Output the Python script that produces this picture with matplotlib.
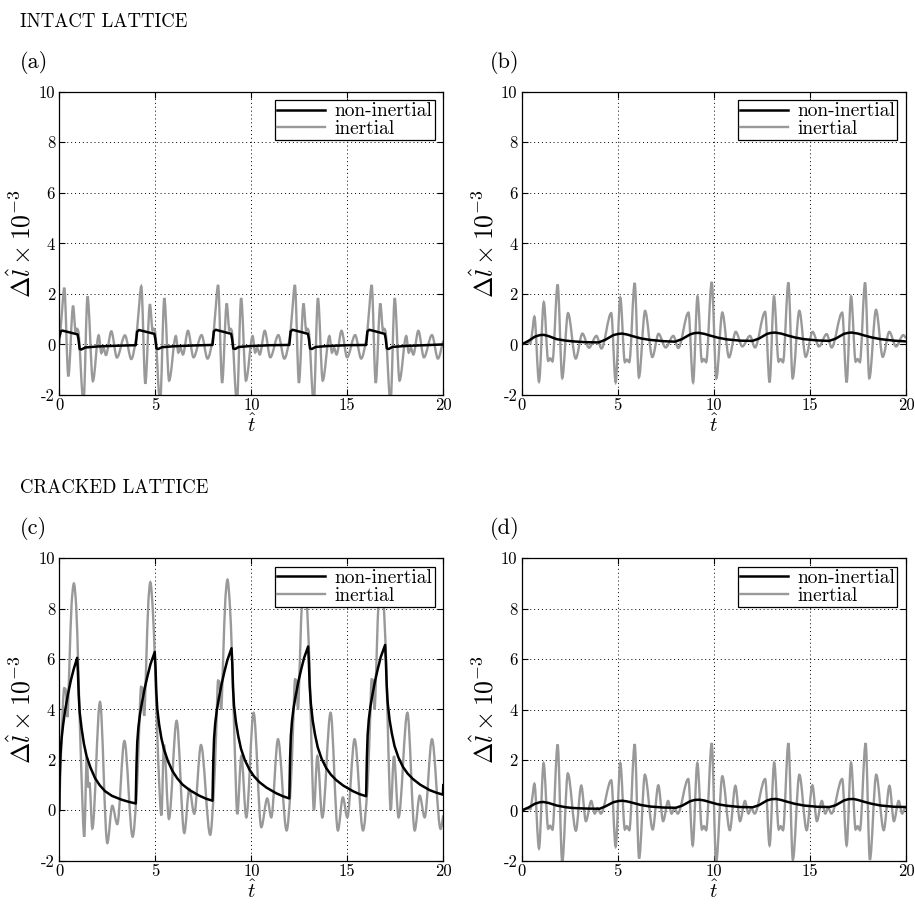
import matplotlib
matplotlib.use("Agg")
import matplotlib.pyplot as plt
from matplotlib.path import Path
from matplotlib.patches import PathPatch
from matplotlib.lines import Line2D
import numpy as np

plt.rcParams['font.family'] = ['cmr10', 'DejaVu Serif']
plt.rcParams['mathtext.fontset'] = 'cm'
plt.rcParams['axes.unicode_minus'] = False
plt.rcParams['axes.formatter.use_mathtext'] = False

# ---------------- Panel (a): intact lattice, case 1 ----------------
a_non_t = [0.00, 0.08, 0.15, 0.95, 1.00, 1.06, 1.15, 1.35, 2.0, 3.0, 3.98,
           4.05, 4.15, 4.95, 5.00, 5.06, 5.15, 5.35, 6.0, 7.0, 7.98,
           8.05, 8.15, 8.95, 9.00, 9.06, 9.15, 9.35, 10.0, 11.0, 11.98,
           12.05, 12.15, 12.95, 13.00, 13.06, 13.15, 13.35, 14.0, 15.0, 15.98,
           16.05, 16.15, 16.95, 17.00, 17.06, 17.15, 17.35, 18.0, 19.0, 20.0]
a_non_v = [0.30, 0.52, 0.55, 0.40, 0.20, -0.18, -0.20, -0.12, -0.08, -0.05, -0.03,
           0.50, 0.57, 0.42, 0.22, -0.16, -0.18, -0.11, -0.07, -0.04, -0.02,
           0.52, 0.58, 0.42, 0.22, -0.16, -0.18, -0.10, -0.06, -0.03, -0.02,
           0.52, 0.58, 0.42, 0.22, -0.16, -0.18, -0.10, -0.06, -0.03, -0.02,
           0.52, 0.58, 0.42, 0.22, -0.16, -0.18, -0.10, -0.06, -0.03, 0.00]

a_in_t = [0.00, 0.12, 0.26, 0.47, 0.72, 0.85, 0.92, 0.98, 1.26, 1.47, 1.75, 2.05, 2.19, 2.30, 2.43, 2.71, 3.00, 3.42, 3.75,
          4.00, 4.12, 4.27, 4.48, 4.72, 4.86, 4.92, 4.98, 5.25, 5.47, 5.72, 6.07, 6.20, 6.31, 6.44, 6.70, 6.99, 7.41, 7.72,
          8.00, 8.12, 8.27, 8.48, 8.72, 8.86, 8.92, 8.98, 9.25, 9.47, 9.72, 10.07, 10.20, 10.31, 10.44, 10.70, 10.99, 11.41, 11.72,
          12.00, 12.12, 12.27, 12.48, 12.72, 12.86, 12.92, 12.98, 13.25, 13.47, 13.72, 14.07, 14.20, 14.31, 14.44, 14.70, 14.99, 15.41, 15.72,
          16.00, 16.12, 16.27, 16.48, 16.72, 16.86, 16.92, 16.98, 17.25, 17.47, 17.72, 18.07, 18.20, 18.31, 18.44, 18.70, 18.99, 19.41, 19.72, 20.00]
a_in_v = [0.00, 1.10, 2.24, -1.26, 1.53, 0.50, 0.62, 0.55, -2.30, 1.90, -1.45, 0.36, -0.34, -0.14, -0.42, 0.52, -0.52, 0.36, -0.58,
          0.25, 1.20, 2.30, -1.55, 1.59, 0.55, 0.62, 0.55, -2.30, 1.83, -1.43, 0.33, -0.32, -0.14, -0.40, 0.54, -0.51, 0.37, -0.56,
          0.25, 1.20, 2.35, -1.52, 1.62, 0.55, 0.62, 0.55, -2.30, 1.83, -1.43, 0.33, -0.32, -0.14, -0.40, 0.54, -0.51, 0.37, -0.56,
          0.25, 1.20, 2.35, -1.52, 1.62, 0.55, 0.62, 0.55, -2.30, 1.83, -1.43, 0.33, -0.32, -0.14, -0.40, 0.54, -0.51, 0.37, -0.56,
          0.25, 1.20, 2.35, -1.52, 1.62, 0.55, 0.62, 0.55, -2.30, 1.83, -1.43, 0.33, -0.32, -0.14, -0.40, 0.54, -0.51, 0.37, -0.56, 0.15]

# ---------------- Panel (b): intact lattice, case 2 ----------------
b_non_t = [0.00, 0.35, 0.69, 0.95, 1.15, 1.40, 1.82, 2.30, 2.70, 3.30, 4.00,
           4.34, 4.77, 5.05, 5.24, 5.50, 5.81, 6.20, 6.68, 7.37, 7.98,
           8.34, 8.77, 9.00, 9.20, 9.50, 9.81, 10.20, 10.68, 11.37, 12.00,
           12.34, 12.77, 13.00, 13.18, 13.50, 13.81, 14.20, 14.68, 15.37, 16.00,
           16.34, 16.77, 17.00, 17.17, 17.50, 17.81, 18.20, 18.68, 19.37, 20.00]
b_non_v = [0.00, 0.14, 0.31, 0.37, 0.38, 0.33, 0.21, 0.15, 0.12, 0.09, 0.08,
           0.18, 0.37, 0.42, 0.43, 0.39, 0.32, 0.24, 0.18, 0.13, 0.11,
           0.21, 0.40, 0.45, 0.46, 0.42, 0.35, 0.27, 0.20, 0.15, 0.14,
           0.23, 0.42, 0.46, 0.47, 0.43, 0.36, 0.28, 0.21, 0.16, 0.14,
           0.23, 0.42, 0.46, 0.47, 0.43, 0.36, 0.28, 0.21, 0.15, 0.12]

b_in_t = [0.00, 0.30, 0.45, 0.55, 0.66, 0.90, 1.15, 1.38, 1.48, 1.60, 1.87, 2.11, 2.41, 2.81, 3.16, 3.50, 3.89, 4.15,
          4.66, 4.89, 5.13, 5.37, 5.47, 5.60, 5.88, 6.10, 6.42, 6.80, 7.12, 7.49, 7.89, 8.15,
          8.68, 8.92, 9.15, 9.38, 9.48, 9.60, 9.89, 10.13, 10.44, 10.79, 11.14, 11.48, 11.88, 12.14,
          12.67, 12.90, 13.13, 13.37, 13.47, 13.60, 13.88, 14.10, 14.45, 14.78, 15.14, 15.47, 15.87, 16.13,
          16.68, 16.91, 17.14, 17.38, 17.48, 17.60, 17.87, 18.09, 18.44, 18.79, 19.13, 19.48, 19.86, 20.00]
b_in_v = [0.00, 0.08, 0.05, 0.50, 1.10, -1.47, 1.67, -0.65, -0.55, -0.67, 2.37, -1.33, 1.24, -0.56, 0.43, -0.13, 0.34, -0.16,
          1.24, -1.50, 1.85, -0.70, -0.60, -0.70, 2.43, -1.30, 1.33, -0.50, 0.42, -0.12, 0.34, -0.14,
          1.26, -1.50, 1.90, -0.68, -0.58, -0.70, 2.47, -1.34, 1.26, -0.51, 0.50, -0.08, 0.34, -0.12,
          1.29, -1.50, 1.90, -0.68, -0.58, -0.70, 2.45, -1.34, 1.33, -0.49, 0.50, -0.08, 0.41, -0.12,
          1.26, -1.50, 1.90, -0.68, -0.58, -0.70, 2.45, -1.34, 1.37, -0.49, 0.50, -0.08, 0.37, 0.25]

# ---------------- Panel (c): cracked lattice, case 1 ----------------
c_non_t = [0.00, 0.02, 0.06, 0.12, 0.20, 0.30, 0.45, 0.60, 0.75, 0.93, 0.97, 1.01, 1.06, 1.16, 1.28, 1.42, 1.62, 1.86, 2.10, 2.38, 2.75, 3.25, 3.60, 3.98,
           4.02, 4.06, 4.12, 4.20, 4.30, 4.45, 4.60, 4.75, 4.97, 5.01, 5.05, 5.10, 5.20, 5.32, 5.46, 5.66, 5.90, 6.14, 6.42, 6.79, 7.29, 7.64, 7.98,
           8.02, 8.06, 8.12, 8.20, 8.30, 8.45, 8.60, 8.75, 8.97, 9.01, 9.05, 9.10, 9.20, 9.32, 9.46, 9.66, 9.90, 10.14, 10.42, 10.79, 11.29, 11.64, 11.98,
           12.02, 12.06, 12.12, 12.20, 12.30, 12.45, 12.60, 12.75, 12.96, 13.00, 13.04, 13.10, 13.20, 13.32, 13.46, 13.66, 13.90, 14.14, 14.42, 14.79, 15.29, 15.64, 15.98,
           16.02, 16.06, 16.12, 16.20, 16.30, 16.45, 16.60, 16.75, 16.97, 17.01, 17.05, 17.10, 17.20, 17.32, 17.46, 17.66, 17.90, 18.14, 18.42, 18.79, 19.29, 19.64, 19.98, 20.00]
c_non_v = [0.00, 1.30, 2.20, 2.85, 3.40, 3.95, 4.60, 5.15, 5.60, 6.05, 5.50, 4.60, 3.90, 3.25, 2.65, 2.15, 1.70, 1.28, 1.00, 0.76, 0.57, 0.42, 0.34, 0.27,
           1.80, 2.70, 3.30, 3.80, 4.25, 4.85, 5.35, 5.80, 6.28, 5.70, 4.75, 4.05, 3.40, 2.85, 2.40, 1.95, 1.55, 1.27, 1.02, 0.80, 0.58, 0.46, 0.38,
           1.95, 2.85, 3.45, 3.95, 4.40, 5.00, 5.50, 5.95, 6.43, 5.80, 4.85, 4.15, 3.50, 2.95, 2.45, 2.00, 1.62, 1.35, 1.12, 0.90, 0.68, 0.56, 0.47,
           2.05, 2.95, 3.55, 4.05, 4.50, 5.10, 5.60, 6.05, 6.50, 5.85, 4.95, 4.25, 3.55, 3.00, 2.50, 2.05, 1.68, 1.42, 1.20, 0.98, 0.76, 0.64, 0.56,
           2.10, 3.00, 3.60, 4.10, 4.55, 5.15, 5.65, 6.10, 6.56, 5.90, 5.00, 4.30, 3.60, 3.05, 2.55, 2.10, 1.72, 1.46, 1.24, 1.02, 0.80, 0.70, 0.62, 1.00]

c_in_t = [0.00, 0.10, 0.26, 0.33, 0.42, 0.52, 0.64, 0.76, 0.88, 1.00, 1.15, 1.30, 1.43, 1.52, 1.57, 1.72, 2.12, 2.50, 2.76, 3.02, 3.39, 3.82,
          4.03, 4.15, 4.26, 4.33, 4.42, 4.52, 4.64, 4.74, 4.86, 5.00, 5.15, 5.32, 5.45, 5.71, 6.11, 6.51, 6.77, 7.03, 7.38, 7.86,
          8.05, 8.17, 8.27, 8.34, 8.43, 8.53, 8.65, 8.76, 8.88, 9.00, 9.14, 9.27, 9.48, 9.74, 10.12, 10.52, 10.83, 11.04, 11.39, 11.84,
          12.05, 12.17, 12.28, 12.35, 12.43, 12.53, 12.65, 12.77, 12.89, 13.02, 13.14, 13.26, 13.44, 13.70, 14.13, 14.51, 14.77, 15.00, 15.38, 15.82,
          16.05, 16.17, 16.27, 16.34, 16.42, 16.52, 16.64, 16.77, 16.89, 17.02, 17.14, 17.26, 17.43, 17.67, 18.13, 18.51, 18.77, 19.03, 19.41, 19.86, 20.00]
c_in_v = [0.00, 2.50, 4.85, 4.80, 3.70, 5.60, 8.20, 9.00, 8.10, 5.30, 1.50, -1.05, 2.10, 0.90, 1.10, -0.72, 4.30, -1.30, 0.18, -0.55, 2.75, -1.05,
          0.70, 3.00, 4.90, 4.85, 3.75, 5.65, 8.30, 9.05, 8.10, 5.50, 2.00, -0.20, 2.60, -0.34, 3.55, -0.90, 0.85, -0.14, 2.59, -0.97,
          0.80, 3.10, 5.15, 5.10, 4.00, 5.90, 8.40, 9.15, 8.20, 6.00, 2.40, -0.15, 2.15, -0.28, 3.87, -0.67, 0.47, -0.28, 2.82, -0.80,
          0.90, 3.20, 5.20, 5.15, 4.00, 5.95, 8.50, 9.20, 8.20, 6.00, 2.40, 0.00, 2.15, -0.28, 3.87, -0.80, 0.51, -0.28, 2.82, -0.80,
          0.90, 3.20, 5.20, 5.15, 4.00, 5.95, 8.50, 9.20, 8.20, 6.00, 2.40, 0.00, 2.15, -0.28, 3.87, -0.80, 0.58, -0.28, 2.82, -0.74, -0.20]

# ---------------- Panel (d): cracked lattice, case 2 ----------------
d_non_t = [0.00, 0.35, 0.69, 0.95, 1.13, 1.40, 1.82, 2.30, 2.70, 3.30, 4.05,
           4.34, 4.77, 5.05, 5.24, 5.50, 5.81, 6.20, 6.68, 7.37, 8.02,
           8.34, 8.77, 9.00, 9.23, 9.50, 9.81, 10.20, 10.68, 11.37, 12.02,
           12.34, 12.77, 13.00, 13.23, 13.50, 13.81, 14.20, 14.68, 15.37, 16.02,
           16.34, 16.77, 17.00, 17.26, 17.50, 17.81, 18.20, 18.68, 19.37, 20.00]
d_non_v = [0.00, 0.12, 0.27, 0.33, 0.34, 0.30, 0.20, 0.13, 0.10, 0.08, 0.07,
           0.16, 0.33, 0.38, 0.39, 0.36, 0.30, 0.22, 0.16, 0.12, 0.11,
           0.19, 0.37, 0.42, 0.43, 0.40, 0.33, 0.25, 0.19, 0.14, 0.13,
           0.21, 0.40, 0.45, 0.46, 0.42, 0.35, 0.27, 0.20, 0.15, 0.14,
           0.21, 0.40, 0.45, 0.46, 0.42, 0.35, 0.27, 0.20, 0.15, 0.14]

d_in_t = [0.00, 0.30, 0.45, 0.55, 0.66, 0.90, 1.14, 1.38, 1.48, 1.60, 1.87, 2.11, 2.40, 2.82, 3.10, 3.34, 3.62, 3.80, 3.95, 4.12,
          4.66, 4.89, 5.13, 5.37, 5.47, 5.60, 5.88, 6.11, 6.41, 6.82, 7.11, 7.36, 7.62, 7.80, 7.95, 8.12,
          8.67, 8.90, 9.14, 9.38, 9.48, 9.60, 9.89, 10.12, 10.44, 10.83, 11.12, 11.36, 11.62, 11.80, 11.95, 12.12,
          12.67, 12.90, 13.14, 13.38, 13.48, 13.60, 13.88, 14.11, 14.45, 14.83, 15.13, 15.36, 15.62, 15.80, 15.95, 16.12,
          16.68, 16.91, 17.14, 17.38, 17.48, 17.60, 17.90, 18.12, 18.45, 18.84, 19.14, 19.37, 19.62, 19.80, 19.95, 20.00]
d_in_v = [0.00, 0.08, 0.05, 0.50, 1.06, -1.50, 1.88, -0.72, -0.60, -0.76, 2.62, -2.05, 1.47, -0.80, 0.99, -0.42, 0.38, -0.12, 0.10, -0.12,
          1.20, -1.43, 1.88, -0.75, -0.62, -0.78, 2.63, -1.90, 1.42, -0.75, 1.00, -0.42, 0.38, -0.12, 0.10, -0.12,
          1.25, -1.38, 1.88, -0.75, -0.62, -0.78, 2.67, -2.05, 1.36, -0.78, 0.98, -0.42, 0.38, -0.12, 0.10, -0.12,
          1.25, -1.38, 1.90, -0.75, -0.62, -0.78, 2.67, -1.95, 1.42, -0.78, 1.00, -0.42, 0.38, -0.12, 0.10, -0.12,
          1.25, -1.38, 1.90, -0.75, -0.62, -0.78, 2.67, -1.95, 1.42, -0.78, 0.98, -0.42, 0.38, -0.12, 0.10, 0.05]

x_ticks = [0, 5, 10, 15, 20]
y_ticks = [-2, 0, 2, 4, 6, 8, 10]
panel_letters = ['(a)', '(b)', '(c)', '(d)']
section_titles = ['INTACT LATTICE', 'CRACKED LATTICE']
legend_labels = ['non-inertial', 'inertial']

GRAY = '0.6'


def smooth_path(t, v):
    """Piecewise cubic Bezier path through the read points (flat tangents at extrema)."""
    t = np.asarray(t, float)
    v = np.asarray(v, float)
    n = len(t)
    m = np.zeros(n)
    for j in range(n):
        if j == 0:
            m[j] = (v[1] - v[0]) / (t[1] - t[0])
        elif j == n - 1:
            m[j] = (v[-1] - v[-2]) / (t[-1] - t[-2])
        else:
            d0 = (v[j] - v[j - 1]) / (t[j] - t[j - 1])
            d1 = (v[j + 1] - v[j]) / (t[j + 1] - t[j])
            m[j] = 0.0 if d0 * d1 <= 0 else 2.0 / (1.0 / d0 + 1.0 / d1)
    verts = [(t[0], v[0])]
    codes = [Path.MOVETO]
    for j in range(n - 1):
        h = t[j + 1] - t[j]
        verts += [(t[j] + h / 3, v[j] + m[j] * h / 3),
                  (t[j + 1] - h / 3, v[j + 1] - m[j + 1] * h / 3),
                  (t[j + 1], v[j + 1])]
        codes += [Path.CURVE4] * 3
    return Path(verts, codes)


W, H = 915, 905
fig = plt.figure(figsize=(W / 100, H / 100), dpi=100)

boxes = [(59.3, 91.7, 443.3, 395.0), (521.7, 91.7, 906.0, 395.0),
         (59.3, 558.3, 443.3, 860.7), (521.7, 558.3, 906.0, 861.0)]
series = [(a_non_t, a_non_v, a_in_t, a_in_v), (b_non_t, b_non_v, b_in_t, b_in_v),
          (c_non_t, c_non_v, c_in_t, c_in_v), (d_non_t, d_non_v, d_in_t, d_in_v)]

for i, ((x0, y0, x1, y1), (nt, nv, it, iv)) in enumerate(zip(boxes, series)):
    ax = fig.add_axes([x0 / W, 1 - y1 / H, (x1 - x0) / W, (y1 - y0) / H])
    patch = PathPatch(smooth_path(it, iv), facecolor='none', edgecolor=GRAY,
                      lw=1.7, zorder=2, transform=ax.transData)
    ax.add_patch(patch)
    k, = ax.plot(nt, nv, color='black', lw=1.8, zorder=3)
    g = Line2D([], [], color=GRAY, lw=1.7)
    ax.set_xlim(0, 20)
    ax.set_ylim(-2, 10)
    ax.set_xticks(x_ticks)
    ax.set_yticks(y_ticks)
    ax.grid(True, color='black', linestyle=(0, (1, 3)), linewidth=0.7)
    ax.tick_params(direction='in', length=4, top=True, right=True, labelsize=12, pad=3)
    ax.tick_params(axis='x', pad=2)
    for s in ax.spines.values():
        s.set_linewidth(0.9)
    ax.set_xlabel(r'$\hat{t}$', fontsize=15, labelpad=0)
    ax.set_ylabel(r'$\Delta\hat{l}\times10^{-3}$', fontsize=18.5, labelpad=2)
    leg = ax.legend([k, g], legend_labels, loc='upper right', fontsize=14,
                    fancybox=False, framealpha=1, edgecolor='black',
                    borderpad=0.1, labelspacing=0.0, handlelength=2.45,
                    handletextpad=0.5, borderaxespad=0.45)
    leg.get_frame().set_linewidth(0.9)
    leg.set_zorder(10)
    lx = 20 if i % 2 == 0 else 490
    ly = 62 if i < 2 else 528
    fig.text(lx / W, 1 - ly / H, panel_letters[i], fontsize=16, va='center', ha='left')

fig.text(20 / W, 1 - 22 / H, section_titles[0], fontsize=13.5, va='center', ha='left')
fig.text(20 / W, 1 - 488 / H, section_titles[1], fontsize=13.5, va='center', ha='left')

fig.savefig('out.png', dpi=100)
